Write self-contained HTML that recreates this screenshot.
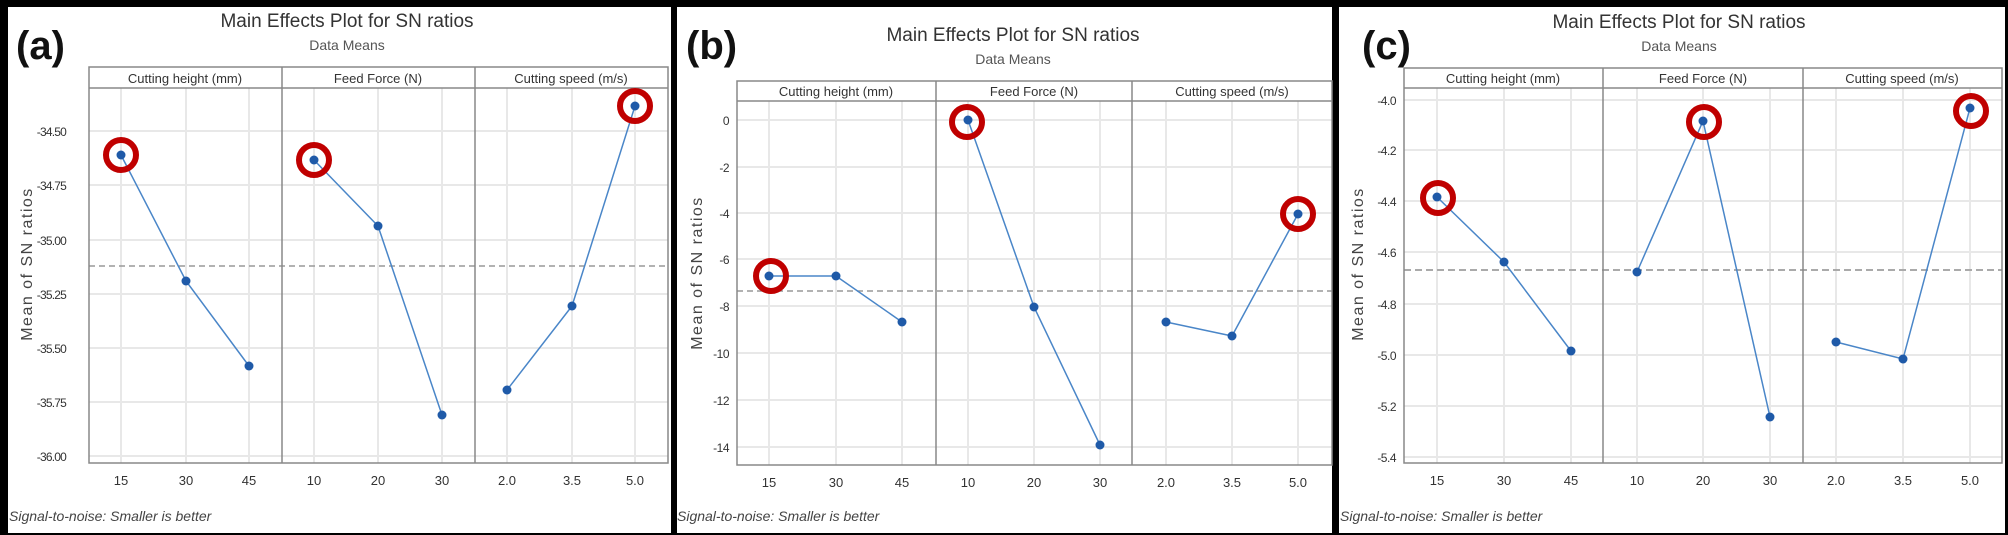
<!DOCTYPE html>
<html><head><meta charset="utf-8"><style>
html,body{margin:0;padding:0;background:#000;}
svg{display:block;font-family:"Liberation Sans",sans-serif;}
</style></head><body>
<svg width="2008" height="535" viewBox="0 0 2008 535" xmlns="http://www.w3.org/2000/svg">
<rect width="2008" height="535" fill="#000"/>
<rect x="8" y="7" width="663" height="526" fill="#fff"/>
<rect x="677" y="7" width="655" height="526" fill="#fff"/>
<rect x="1339" y="7" width="666" height="526" fill="#fff"/>

<!-- ===== Panel A ===== -->
<g>
<g stroke="#e8e8e8" stroke-width="2">
<line x1="89" x2="668" y1="131" y2="131"/><line x1="89" x2="668" y1="185" y2="185"/><line x1="89" x2="668" y1="240" y2="240"/><line x1="89" x2="668" y1="294" y2="294"/><line x1="89" x2="668" y1="348" y2="348"/><line x1="89" x2="668" y1="402" y2="402"/><line x1="89" x2="668" y1="456" y2="456"/>
<line x1="121" x2="121" y1="88" y2="463"/><line x1="186" x2="186" y1="88" y2="463"/><line x1="249" x2="249" y1="88" y2="463"/><line x1="314" x2="314" y1="88" y2="463"/><line x1="378" x2="378" y1="88" y2="463"/><line x1="442" x2="442" y1="88" y2="463"/><line x1="507" x2="507" y1="88" y2="463"/><line x1="572" x2="572" y1="88" y2="463"/><line x1="635" x2="635" y1="88" y2="463"/>
</g>
<line x1="89" x2="668" y1="266" y2="266" stroke="#999" stroke-width="1.5" stroke-dasharray="6,4"/>
<g fill="none" stroke="#888" stroke-width="1.5">
<rect x="89" y="67" width="579" height="396"/><line x1="89" x2="668" y1="88" y2="88"/>
<line x1="282" x2="282" y1="67" y2="463"/><line x1="475" x2="475" y1="67" y2="463"/>
</g>
<g font-size="13" fill="#333" text-anchor="middle">
<text x="185" y="83">Cutting height (mm)</text><text x="378" y="83">Feed Force (N)</text><text x="571" y="83">Cutting speed (m/s)</text>
</g>
<g stroke="#4a86c8" stroke-width="1.5" fill="none">
<polyline points="121,155 186,281 249,366"/><polyline points="314,160 378,226 442,415"/><polyline points="507,390 572,306 635,106"/>
</g>
<g fill="#1f5aa8">
<circle cx="121" cy="155" r="4.5"/><circle cx="186" cy="281" r="4.5"/><circle cx="249" cy="366" r="4.5"/><circle cx="314" cy="160" r="4.5"/><circle cx="378" cy="226" r="4.5"/><circle cx="442" cy="415" r="4.5"/><circle cx="507" cy="390" r="4.5"/><circle cx="572" cy="306" r="4.5"/><circle cx="635" cy="106" r="4.5"/>
</g>
<g fill="none" stroke="#c00000" stroke-width="6">
<circle cx="121" cy="155" r="15"/><circle cx="314" cy="160" r="15"/><circle cx="635" cy="106" r="15"/>
</g>
<g font-size="12" fill="#333" text-anchor="end" letter-spacing="-0.8">
<text x="66" y="136">-34.50</text><text x="66" y="190">-34.75</text><text x="66" y="245">-35.00</text><text x="66" y="299">-35.25</text><text x="66" y="353">-35.50</text><text x="66" y="407">-35.75</text><text x="66" y="461">-36.00</text>
</g>
<g font-size="13" fill="#333" text-anchor="middle">
<text x="121" y="485">15</text><text x="186" y="485">30</text><text x="249" y="485">45</text><text x="314" y="485">10</text><text x="378" y="485">20</text><text x="442" y="485">30</text><text x="507" y="485">2.0</text><text x="572" y="485">3.5</text><text x="635" y="485">5.0</text>
</g>
<text transform="translate(32,264) rotate(-90)" font-size="16" fill="#444" text-anchor="middle" letter-spacing="1.5">Mean of SN ratios</text>
<text x="347" y="27" font-size="19" fill="#333" text-anchor="middle">Main Effects Plot for SN ratios</text>
<text x="347" y="50" font-size="14" fill="#555" text-anchor="middle">Data Means</text>
<text x="16" y="59" font-size="40" font-weight="bold" fill="#111">(a)</text>
<text x="9" y="521" font-size="14" font-style="italic" fill="#444">Signal-to-noise: Smaller is better</text>
</g>

<!-- ===== Panel B ===== -->
<g>
<g stroke="#e8e8e8" stroke-width="2">
<line x1="737" x2="1332" y1="120" y2="120"/><line x1="737" x2="1332" y1="167" y2="167"/><line x1="737" x2="1332" y1="213" y2="213"/><line x1="737" x2="1332" y1="259" y2="259"/><line x1="737" x2="1332" y1="306" y2="306"/><line x1="737" x2="1332" y1="353" y2="353"/><line x1="737" x2="1332" y1="400" y2="400"/><line x1="737" x2="1332" y1="447" y2="447"/>
<line x1="769" x2="769" y1="101" y2="465"/><line x1="836" x2="836" y1="101" y2="465"/><line x1="902" x2="902" y1="101" y2="465"/><line x1="968" x2="968" y1="101" y2="465"/><line x1="1034" x2="1034" y1="101" y2="465"/><line x1="1100" x2="1100" y1="101" y2="465"/><line x1="1166" x2="1166" y1="101" y2="465"/><line x1="1232" x2="1232" y1="101" y2="465"/><line x1="1298" x2="1298" y1="101" y2="465"/>
</g>
<line x1="737" x2="1332" y1="291" y2="291" stroke="#999" stroke-width="1.5" stroke-dasharray="6,4"/>
<g fill="none" stroke="#888" stroke-width="1.5">
<rect x="737" y="81" width="595" height="384"/><line x1="737" x2="1332" y1="101" y2="101"/>
<line x1="936" x2="936" y1="81" y2="465"/><line x1="1132" x2="1132" y1="81" y2="465"/>
</g>
<g font-size="13" fill="#333" text-anchor="middle">
<text x="836" y="96">Cutting height (mm)</text><text x="1034" y="96">Feed Force (N)</text><text x="1232" y="96">Cutting speed (m/s)</text>
</g>
<g stroke="#4a86c8" stroke-width="1.5" fill="none">
<polyline points="769,276 836,276 902,322"/><polyline points="968,120 1034,307 1100,445"/><polyline points="1166,322 1232,336 1298,214"/>
</g>
<g fill="#1f5aa8">
<circle cx="769" cy="276" r="4.5"/><circle cx="836" cy="276" r="4.5"/><circle cx="902" cy="322" r="4.5"/><circle cx="968" cy="120" r="4.5"/><circle cx="1034" cy="307" r="4.5"/><circle cx="1100" cy="445" r="4.5"/><circle cx="1166" cy="322" r="4.5"/><circle cx="1232" cy="336" r="4.5"/><circle cx="1298" cy="214" r="4.5"/>
</g>
<g fill="none" stroke="#c00000" stroke-width="6">
<circle cx="771" cy="276" r="15"/><circle cx="967" cy="122" r="15"/><circle cx="1298" cy="214" r="15"/>
</g>
<g font-size="12" fill="#333" text-anchor="end" letter-spacing="-0.5">
<text x="729" y="125">0</text><text x="729" y="172">-2</text><text x="729" y="218">-4</text><text x="729" y="264">-6</text><text x="729" y="311">-8</text><text x="729" y="358">-10</text><text x="729" y="405">-12</text><text x="729" y="452">-14</text>
</g>
<g font-size="13" fill="#333" text-anchor="middle">
<text x="769" y="487">15</text><text x="836" y="487">30</text><text x="902" y="487">45</text><text x="968" y="487">10</text><text x="1034" y="487">20</text><text x="1100" y="487">30</text><text x="1166" y="487">2.0</text><text x="1232" y="487">3.5</text><text x="1298" y="487">5.0</text>
</g>
<text transform="translate(702,273) rotate(-90)" font-size="16" fill="#444" text-anchor="middle" letter-spacing="1.5">Mean of SN ratios</text>
<text x="1013" y="41" font-size="19" fill="#333" text-anchor="middle">Main Effects Plot for SN ratios</text>
<text x="1013" y="64" font-size="14" fill="#555" text-anchor="middle">Data Means</text>
<text x="686" y="59" font-size="40" font-weight="bold" fill="#111">(b)</text>
<text x="677" y="521" font-size="14" font-style="italic" fill="#444">Signal-to-noise: Smaller is better</text>
</g>

<!-- ===== Panel C ===== -->
<g>
<g stroke="#e8e8e8" stroke-width="2">
<line x1="1404" x2="2002" y1="100" y2="100"/><line x1="1404" x2="2002" y1="150" y2="150"/><line x1="1404" x2="2002" y1="201" y2="201"/><line x1="1404" x2="2002" y1="252" y2="252"/><line x1="1404" x2="2002" y1="304" y2="304"/><line x1="1404" x2="2002" y1="355" y2="355"/><line x1="1404" x2="2002" y1="406" y2="406"/><line x1="1404" x2="2002" y1="457" y2="457"/>
<line x1="1437" x2="1437" y1="88" y2="463"/><line x1="1504" x2="1504" y1="88" y2="463"/><line x1="1571" x2="1571" y1="88" y2="463"/><line x1="1637" x2="1637" y1="88" y2="463"/><line x1="1703" x2="1703" y1="88" y2="463"/><line x1="1770" x2="1770" y1="88" y2="463"/><line x1="1836" x2="1836" y1="88" y2="463"/><line x1="1903" x2="1903" y1="88" y2="463"/><line x1="1970" x2="1970" y1="88" y2="463"/>
</g>
<line x1="1404" x2="2002" y1="270" y2="270" stroke="#aaa" stroke-width="2" stroke-dasharray="7,4"/>
<g fill="none" stroke="#888" stroke-width="1.5">
<rect x="1404" y="68" width="598" height="395"/><line x1="1404" x2="2002" y1="88" y2="88"/>
<line x1="1603" x2="1603" y1="68" y2="463"/><line x1="1803" x2="1803" y1="68" y2="463"/>
</g>
<g font-size="13" fill="#333" text-anchor="middle">
<text x="1503" y="83">Cutting height (mm)</text><text x="1703" y="83">Feed Force (N)</text><text x="1902" y="83">Cutting speed (m/s)</text>
</g>
<g stroke="#4a86c8" stroke-width="1.5" fill="none">
<polyline points="1437,197 1504,262 1571,351"/><polyline points="1637,272 1703,121 1770,417"/><polyline points="1836,342 1903,359 1970,108"/>
</g>
<g fill="#1f5aa8">
<circle cx="1437" cy="197" r="4.5"/><circle cx="1504" cy="262" r="4.5"/><circle cx="1571" cy="351" r="4.5"/><circle cx="1637" cy="272" r="4.5"/><circle cx="1703" cy="121" r="4.5"/><circle cx="1770" cy="417" r="4.5"/><circle cx="1836" cy="342" r="4.5"/><circle cx="1903" cy="359" r="4.5"/><circle cx="1970" cy="108" r="4.5"/>
</g>
<g fill="none" stroke="#c00000" stroke-width="6">
<circle cx="1438" cy="198" r="15"/><circle cx="1704" cy="122" r="15"/><circle cx="1971" cy="111" r="15"/>
</g>
<g font-size="12" fill="#333" text-anchor="end" letter-spacing="-0.5">
<text x="1396" y="105">-4.0</text><text x="1396" y="155">-4.2</text><text x="1396" y="206">-4.4</text><text x="1396" y="257">-4.6</text><text x="1396" y="309">-4.8</text><text x="1396" y="360">-5.0</text><text x="1396" y="411">-5.2</text><text x="1396" y="462">-5.4</text>
</g>
<g font-size="13" fill="#333" text-anchor="middle">
<text x="1437" y="485">15</text><text x="1504" y="485">30</text><text x="1571" y="485">45</text><text x="1637" y="485">10</text><text x="1703" y="485">20</text><text x="1770" y="485">30</text><text x="1836" y="485">2.0</text><text x="1903" y="485">3.5</text><text x="1970" y="485">5.0</text>
</g>
<text transform="translate(1363,264) rotate(-90)" font-size="16" fill="#444" text-anchor="middle" letter-spacing="1.5">Mean of SN ratios</text>
<text x="1679" y="28" font-size="19" fill="#333" text-anchor="middle">Main Effects Plot for SN ratios</text>
<text x="1679" y="51" font-size="14" fill="#555" text-anchor="middle">Data Means</text>
<text x="1362" y="59" font-size="40" font-weight="bold" fill="#111">(c)</text>
<text x="1340" y="521" font-size="14" font-style="italic" fill="#444">Signal-to-noise: Smaller is better</text>
</g>
</svg>
</body></html>
